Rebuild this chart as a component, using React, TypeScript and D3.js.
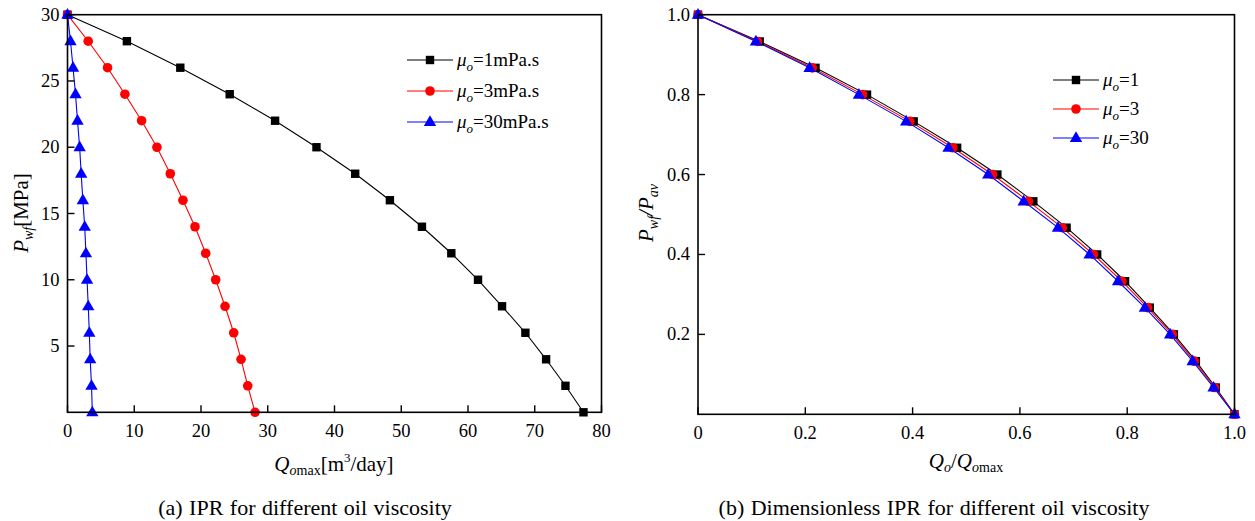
import * as d3 from 'd3';
import React from 'react';

// (a) IPR: bottom-hole pressure levels [MPa] and rates [m3/day]
const pwf = [30, 28, 26, 24, 22, 20, 18, 16, 14, 12, 10, 8, 6, 4, 2, 0];
const qMu1 = [0, 8.9, 16.9, 24.3, 31.1, 37.3, 43.1, 48.3, 53.1, 57.5, 61.5, 65.1, 68.6, 71.7, 74.6, 77.3];
const qMu3 = [0, 3.1, 6.0, 8.6, 11.1, 13.4, 15.4, 17.3, 19.1, 20.7, 22.2, 23.6, 24.9, 26.0, 27.0, 28.1];
const qMu30 = [0, 0.45, 0.83, 1.2, 1.5, 1.82, 2.05, 2.3, 2.58, 2.76, 2.93, 3.11, 3.27, 3.4, 3.6, 3.72];

// (b) dimensionless IPR
const pRatio = [1, 0.933, 0.867, 0.8, 0.733, 0.667, 0.6, 0.533, 0.467, 0.4, 0.333, 0.267, 0.2, 0.133, 0.067, 0];
const qrMu1 = [0, 0.115, 0.219, 0.315, 0.402, 0.483, 0.558, 0.625, 0.687, 0.744, 0.796, 0.842, 0.887, 0.928, 0.965, 1];
const qrMu3 = [0, 0.111, 0.213, 0.307, 0.395, 0.475, 0.549, 0.616, 0.679, 0.737, 0.790, 0.838, 0.884, 0.925, 0.963, 1];
const qrMu30 = [0, 0.108, 0.208, 0.300, 0.388, 0.467, 0.541, 0.607, 0.671, 0.730, 0.783, 0.833, 0.880, 0.922, 0.961, 1];

const xTicksA = [0, 10, 20, 30, 40, 50, 60, 70, 80];
const yTicksA = [5, 10, 15, 20, 25, 30];
const xTicksB = [0, 0.2, 0.4, 0.6, 0.8, 1.0];
const yTicksB = [0.2, 0.4, 0.6, 0.8, 1.0];

const legendA = ['1mPa.s', '3mPa.s', '30mPa.s'];
const legendB = ['1', '3', '30'];

const colors = ['#000000', '#ff0000', '#0000ff'];
const shapes = ['square', 'circle', 'triangle'];
const FONT = { fontFamily: 'Liberation Serif' };

function Marker({ shape, x, y, color }) {
  if (shape === 'square') return <rect x={x - 4.2} y={y - 4.2} width={8.4} height={8.4} fill={color} />;
  if (shape === 'circle') return <circle cx={x} cy={y} r={4.8} fill={color} />;
  const tri = d3.symbol(d3.symbolTriangle, 66)();
  return <path d={tri} transform={`translate(${x},${y + 0.5})`} fill={color} />;
}

function Panel({ x, y, series, xTicks, yTicks, fmt, legend, legendPos, legendGap }) {
  const line = d3.line().x(d => x(d[0])).y(d => y(d[1]));
  const [x0, x1] = x.range();
  const [y0, y1] = y.range();
  return (
    <g>
      {series.map((s, i) => (
        <path key={'l' + i} d={line(s)} fill="none" stroke={colors[i]} strokeWidth={1.1} />
      ))}
      {series.map((s, i) =>
        s.map((d, j) => <Marker key={'m' + i + '-' + j} shape={shapes[i]} x={x(d[0])} y={y(d[1])} color={colors[i]} />)
      )}
      <rect x={x0} y={y1} width={x1 - x0} height={y0 - y1} fill="none" stroke="#000" strokeWidth={1.6} />
      {xTicks.map(t => (
        <g key={'xt' + t}>
          <line x1={x(t)} x2={x(t)} y1={y0} y2={y0 - 7} stroke="#000" strokeWidth={1.4} />
          <text x={x(t)} y={y0 + 25} textAnchor="middle" fontSize={18.5} style={FONT}>{fmt(t)}</text>
        </g>
      ))}
      {yTicks.map(t => (
        <g key={'yt' + t}>
          <line x1={x0} x2={x0 + 7} y1={y(t)} y2={y(t)} stroke="#000" strokeWidth={1.4} />
          <text x={x0 - 8} y={y(t) + 6} textAnchor="end" fontSize={18.5} style={FONT}>{fmt(t)}</text>
        </g>
      ))}
      {legend.map((lab, i) => {
        const ly = legendPos[1] + i * legendGap;
        return (
          <g key={'lg' + i}>
            <line x1={legendPos[0]} x2={legendPos[0] + 46} y1={ly} y2={ly} stroke={colors[i]} strokeWidth={1.1} />
            <Marker shape={shapes[i]} x={legendPos[0] + 23} y={ly} color={colors[i]} />
            <text x={legendPos[0] + 50} y={ly + 6} fontSize={19} style={FONT}>
              <tspan fontStyle="italic">μ</tspan>
              <tspan fontStyle="italic" fontSize={13} dy={5}>o</tspan>
              <tspan dy={-5}>={lab}</tspan>
            </text>
          </g>
        );
      })}
    </g>
  );
}

export default function App() {
  const xA = d3.scaleLinear().domain([0, 80]).range([67.5, 601.5]);
  const yA = d3.scaleLinear().domain([0, 30]).range([412.3, 14.7]);
  const xB = d3.scaleLinear().domain([0, 1]).range([698, 1234.5]);
  const yB = d3.scaleLinear().domain([0, 1]).range([414.3, 14.7]);

  const seriesA = [qMu1, qMu3, qMu30].map(q => q.map((v, i) => [v, pwf[i]]));
  const seriesB = [qrMu1, qrMu3, qrMu30].map(q => q.map((v, i) => [v, pRatio[i]]));

  return (
    <svg width={1255} height={521} style={{ position: 'absolute', left: 0, top: 0, background: '#fff' }}>
      <Panel x={xA} y={yA} series={seriesA} xTicks={xTicksA} yTicks={yTicksA}
        fmt={d => String(d)} legend={legendA} legendPos={[407, 60]} legendGap={31} />
      <Panel x={xB} y={yB} series={seriesB} xTicks={xTicksB} yTicks={yTicksB}
        fmt={d => (d === 0 ? '0' : d3.format('.1f')(d))} legend={legendB} legendPos={[1053, 80]} legendGap={29} />

      {/* axis titles */}
      <text x={334} y={471} textAnchor="middle" fontSize={21} style={FONT}>
        <tspan fontStyle="italic">Q</tspan>
        <tspan fontSize={14} dy={4}><tspan fontStyle="italic">o</tspan>max</tspan>
        <tspan dy={-4}>[m</tspan>
        <tspan fontSize={13} dy={-9}>3</tspan>
        <tspan dy={9}>/day]</tspan>
      </text>
      <text x={966} y={468} textAnchor="middle" fontSize={21} style={FONT}>
        <tspan fontStyle="italic">Q</tspan>
        <tspan fontStyle="italic" fontSize={14} dy={4}>o</tspan>
        <tspan dy={-4}>/</tspan>
        <tspan fontStyle="italic">Q</tspan>
        <tspan fontSize={14} dy={4}><tspan fontStyle="italic">o</tspan>max</tspan>
      </text>
      <text transform="translate(28,213) rotate(-90)" textAnchor="middle" fontSize={21} style={FONT}>
        <tspan fontStyle="italic">P</tspan>
        <tspan fontStyle="italic" fontSize={14} dy={5}>wf</tspan>
        <tspan dy={-5}>[MPa]</tspan>
      </text>
      <text transform="translate(653,213) rotate(-90)" textAnchor="middle" fontSize={21} style={FONT}>
        <tspan fontStyle="italic">P</tspan>
        <tspan fontStyle="italic" fontSize={14} dy={5}>wf</tspan>
        <tspan dy={-5} fontStyle="italic">/P</tspan>
        <tspan fontStyle="italic" fontSize={14} dy={5}>av</tspan>
      </text>

      {/* captions */}
      <text x={305} y={515} textAnchor="middle" fontSize={22} wordSpacing={1} style={FONT}>(a) IPR for different oil viscosity</text>
      <text x={934} y={515} textAnchor="middle" fontSize={22} wordSpacing={1} style={FONT}>(b) Dimensionless IPR for different oil viscosity</text>
    </svg>
  );
}
